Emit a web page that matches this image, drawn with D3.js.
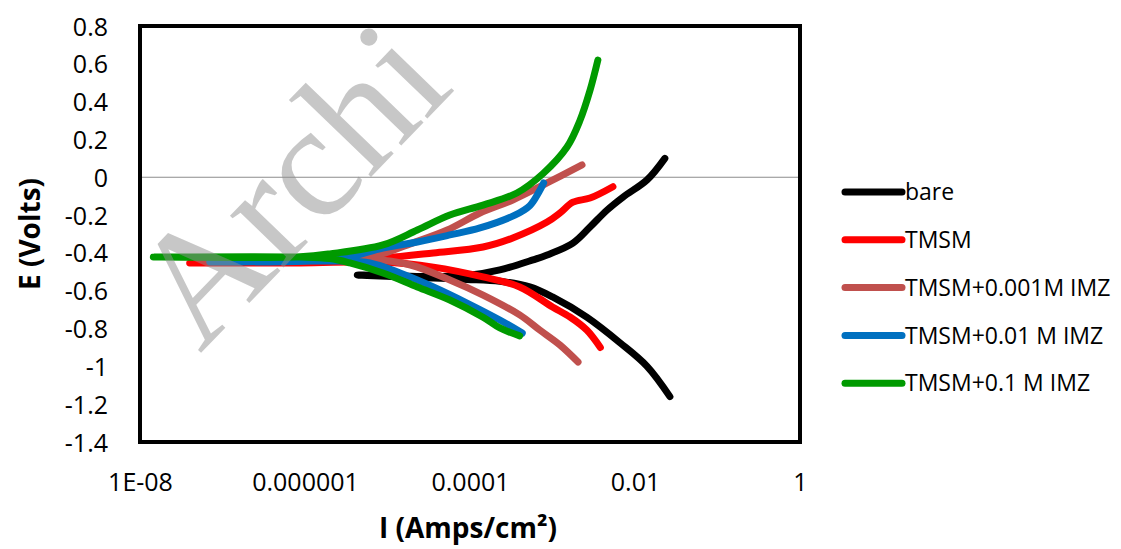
<!DOCTYPE html>
<html>
<head>
<meta charset="utf-8">
<script src="https://cdn.jsdelivr.net/npm/d3@7"></script>
<style>
  body { margin: 0; background: #fff; }
</style>
</head>
<body>
<div id="chart"></div>
<script>
// chart size
const width = 1121;
const height = 549;
const margin = {left: 140, top: 26, right: 321, bottom: 107};

// series: [I (A/cm2), E (V)], cathodic end -> Ecorr -> anodic end
const bare = [
  [2.65e-2, -1.16], [1.4e-2, -1.0], [6.6e-3, -0.876], [2.6e-3, -0.74], [1.0e-3, -0.633],
  [5.3e-4, -0.58], [2.3e-4, -0.55], [9.2e-5, -0.54], [3.6e-5, -0.533], [1.42e-5, -0.527],
  [4.3e-6, -0.517],
  [1.42e-5, -0.522], [3.6e-5, -0.525], [9.2e-5, -0.52], [2.3e-4, -0.49], [5.8e-4, -0.437],
  [8.6e-4, -0.411], [1.77e-3, -0.348], [2.85e-3, -0.263], [4.6e-3, -0.173], [7.2e-3, -0.104],
  [1.4e-2, -0.014], [2.3e-2, 0.1]
];
const tmsm = [
  [3.8e-3, -0.9], [2.6e-3, -0.808], [1.63e-3, -0.739], [1.0e-3, -0.686], [4.0e-4, -0.58],
  [1.44e-4, -0.527], [3.6e-5, -0.475], [8.8e-6, -0.448], [8.7e-7, -0.453], [4.0e-8, -0.453],
  [8.7e-7, -0.448], [8.8e-6, -0.427], [3.6e-5, -0.4], [1.44e-4, -0.369], [3.3e-4, -0.321],
  [8.6e-4, -0.237], [1.23e-3, -0.189], [1.77e-3, -0.132], [2.85e-3, -0.11], [5.4e-3, -0.05]
];
const imz001 = [
  [2.04e-3, -0.977], [1.23e-3, -0.887], [7.0e-4, -0.808], [4.0e-4, -0.728], [1.44e-4, -0.623],
  [5.7e-5, -0.543], [1.9e-5, -0.464], [6.1e-6, -0.432], [8.7e-7, -0.443], [9.3e-8, -0.443],
  [8.7e-7, -0.437], [6.1e-6, -0.422], [2.0e-5, -0.348], [5.3e-5, -0.279], [1.32e-4, -0.189],
  [3.3e-4, -0.12], [8.6e-4, -0.03], [2.28e-3, 0.065]
];
const imz01 = [
  [4.3e-4, -0.824], [2.3e-4, -0.755], [9.2e-5, -0.665], [3.6e-5, -0.58], [1.42e-5, -0.506],
  [6.1e-6, -0.453], [2.65e-6, -0.443], [7.0e-8, -0.448],
  [2.65e-6, -0.432], [8.8e-6, -0.374], [2.3e-5, -0.342], [5.7e-5, -0.305], [1.32e-4, -0.268],
  [3.5e-4, -0.2], [5.3e-4, -0.15], [6.8e-4, -0.08], [7.8e-4, -0.03]
];
const imz1 = [
  [4.0e-4, -0.839], [2.3e-4, -0.797], [1.44e-4, -0.74], [5.7e-5, -0.649], [2.3e-5, -0.58],
  [8.8e-6, -0.506], [3.5e-6, -0.453], [2.0e-6, -0.43], [8.7e-7, -0.422], [1.45e-8, -0.422],
  [8.7e-7, -0.42], [2.0e-6, -0.405], [8.8e-6, -0.358], [2.3e-5, -0.279], [5.7e-5, -0.2],
  [1.44e-4, -0.147], [3.7e-4, -0.083], [7.7e-4, 0.02], [1.5e-3, 0.16], [2.15e-3, 0.3],
  [2.85e-3, 0.46], [3.55e-3, 0.62]
];

const seriesNames = ["bare", "TMSM", "TMSM+0.001M IMZ", "TMSM+0.01 M IMZ", "TMSM+0.1 M IMZ"];
const seriesData = [bare, tmsm, imz001, imz01, imz1];
const seriesColors = ["#000000", "#ff0000", "#c0504d", "#0070c0", "#009a00"];

const yTicks = [0.8, 0.6, 0.4, 0.2, 0, -0.2, -0.4, -0.6, -0.8, -1, -1.2, -1.4];
const xTicks = [1e-8, 1e-6, 1e-4, 1e-2, 1];
const xTickLabels = ["1E-08", "0.000001", "0.0001", "0.01", "1"];

const font = '"Open Sans", sans-serif';

const svg = d3.select('#chart').append('svg')
  .attr('width', width)
  .attr('height', height)
  .style('font-family', font);

const x = d3.scaleLog().domain([1e-8, 1]).range([margin.left, width - margin.right]);
const y = d3.scaleLinear().domain([-1.4, 0.8]).range([height - margin.bottom, margin.top]);

// zero line
svg.append('line')
  .attr('x1', x(1e-8)).attr('x2', x(1))
  .attr('y1', y(0)).attr('y2', y(0))
  .attr('stroke', '#8c8c8c').attr('stroke-width', 1.2);

// axes (labels only)
const yAxis = svg.append('g')
  .attr('transform', `translate(${margin.left - 29},0)`)
  .call(d3.axisLeft(y).tickValues(yTicks).tickSize(0).tickFormat(d => String(+d.toFixed(1))));
const xAxis = svg.append('g')
  .attr('transform', `translate(0,${height - margin.bottom + 28})`)
  .call(d3.axisBottom(x).tickValues(xTicks).tickSize(0).tickFormat((d, i) => xTickLabels[i]));
[yAxis, xAxis].forEach(g => {
  g.select('.domain').remove();
  g.selectAll('text').attr('font-size', 25).attr('fill', '#000').style('font-family', font);
});
yAxis.selectAll('text').attr('dy', '0.36em');

// lines
const line = d3.line()
  .x(d => x(d[0]))
  .y(d => y(d[1]))
  .curve(d3.curveCatmullRom.alpha(0.5));

svg.append('g').selectAll('path')
  .data(seriesData)
  .enter()
  .append('path')
  .attr('d', line)
  .attr('fill', 'none')
  .attr('stroke', (d, i) => seriesColors[i])
  .attr('stroke-width', 7)
  .attr('stroke-linecap', 'round')
  .attr('stroke-linejoin', 'round');

// plot border
svg.append('rect')
  .attr('x', margin.left).attr('y', margin.top)
  .attr('width', width - margin.left - margin.right)
  .attr('height', height - margin.top - margin.bottom)
  .attr('fill', 'none').attr('stroke', '#000').attr('stroke-width', 4);

// axis titles
svg.append('text')
  .attr('transform', `translate(40,${(margin.top + height - margin.bottom) / 2}) rotate(-90)`)
  .attr('text-anchor', 'middle')
  .attr('font-size', 28).attr('font-weight', 'bold')
  .text('E (Volts)');
svg.append('text')
  .attr('x', 468).attr('y', 538)
  .attr('text-anchor', 'middle')
  .attr('font-size', 28).attr('font-weight', 'bold')
  .text('I (Amps/cm²)');

// legend
const legend = svg.append('g').selectAll('g')
  .data(seriesNames)
  .enter()
  .append('g')
  .attr('transform', (d, i) => `translate(845,${192 + i * 47.8})`);
legend.append('line')
  .attr('x1', 0).attr('x2', 57)
  .attr('stroke', (d, i) => seriesColors[i])
  .attr('stroke-width', 7)
  .attr('stroke-linecap', 'round');
legend.append('text')
  .attr('x', 60).attr('dy', '0.36em')
  .attr('font-size', 23)
  .text(d => d);

// watermark
svg.append('text')
  .attr('transform', 'translate(200,354) rotate(-46)')
  .style('font-family', '"Liberation Serif", "DejaVu Serif", serif')
  .attr('font-size', 162)
  .attr('fill', '#8f8f8f')
  .attr('fill-opacity', 0.5)
  .text('Archi');
</script>
</body>
</html>
